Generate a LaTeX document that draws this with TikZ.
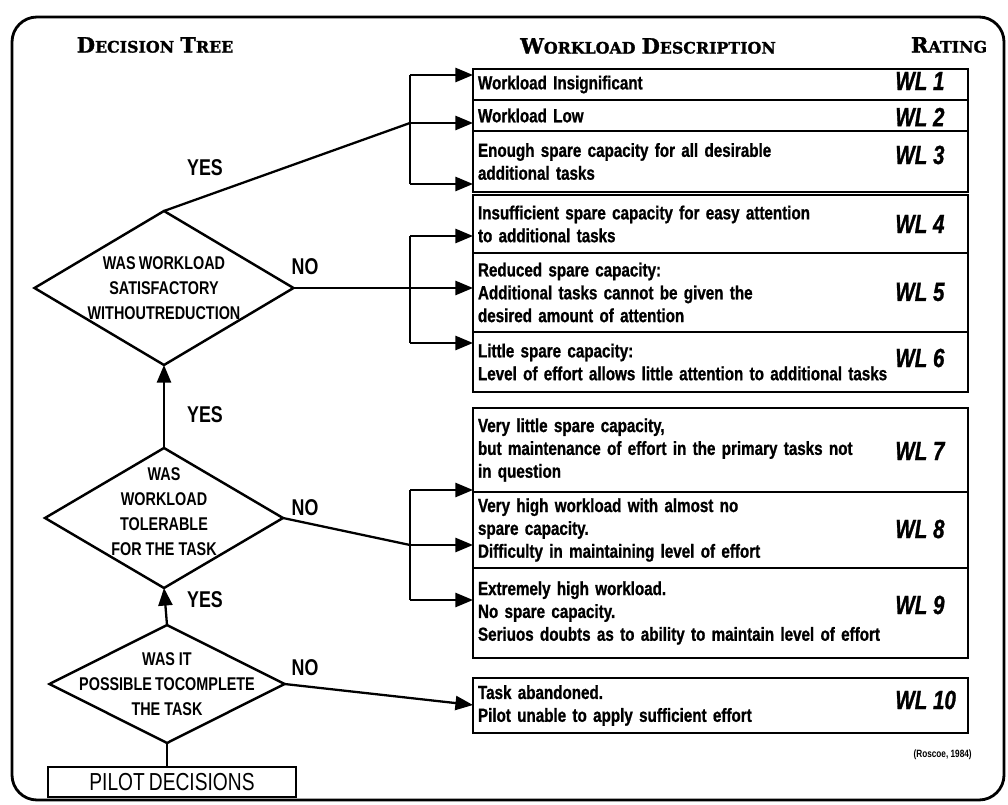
\documentclass[tikz,border=0pt]{standalone}
\usepackage{fontspec}
\setmainfont{Liberation Sans}
\newfontfamily\descfont[FakeStretch=0.8, FakeBold=1]{Liberation Sans}
\newfontfamily\askfont[FakeStretch=0.78]{Liberation Sans}
\newfontfamily\ratefont[FakeStretch=0.78, FakeBold=1]{Liberation Sans}
\newfontfamily\headfont[FakeBold=1.5]{DejaVu Serif}
\usetikzlibrary{shapes.geometric, positioning, arrows.meta}

\newcommand\smallcap[2]{{\fontsize{12}{12}\selectfont #1}{\fontsize{9}{9}\selectfont #2}}

\tikzset{
    frame/.style={line width=1.6pt, rounded corners=0.5cm},
    head/.style={font=\headfont\bfseries, inner sep=0pt},
    wlbox/.style={draw, rectangle, line width=1.1pt, outer sep=0pt, inner xsep=0.1cm, inner ysep=0pt,
        minimum width=9.9cm, text width=9.7cm, align=left,
        font=\descfont\bfseries\fontsize{10.8}{13}\selectfont},
    rating/.style={anchor=west, inner sep=0pt, font=\ratefont\bfseries\itshape\fontsize{15}{15}\selectfont},
    ask/.style={diamond, draw, line width=1.4pt, inner sep=0pt, outer sep=0pt},
    asktext/.style={align=center, inner sep=0pt, font=\askfont\bfseries\fontsize{10.5}{14.2}\selectfont},
    pilotbox/.style={draw, rectangle, line width=1.2pt, outer sep=0pt, minimum width=4.96cm, minimum height=0.6cm,
        inner sep=0pt, font=\askfont\fontsize{14}{14}\selectfont},
    answer/.style={inner sep=0pt, font=\askfont\bfseries\fontsize{13}{13}\selectfont},
    conn/.style={line width=1.3pt},
    arr/.style={-{Triangle[length=10pt,width=8pt]}, line width=1.3pt},
    cite/.style={anchor=east, inner sep=0pt, font=\askfont\bfseries\fontsize{6}{6}\selectfont}
}

\begin{document}
\begin{tikzpicture}
    \def \busX {8.2}
    \useasboundingbox (0,0) rectangle (20.16,16.08);
    \draw[frame] (0.24,0.08) rectangle (20.08,15.74);

    \node[head] (hdtree) at (3.10,15.18) {\smallcap{D}{ECISION} \smallcap{T}{REE}};
    \node[head] (hddesc) at (12.96,15.16) {\smallcap{W}{ORKLOAD} \smallcap{D}{ESCRIPTION}};
    \node[head] (hdrate) at (18.98,15.18) {\smallcap{R}{ATING}};

    \node[wlbox, minimum height=0.62cm, anchor=north west] (wl1) at (9.46,14.70) {Workload Insignificant};
    \node[wlbox, minimum height=0.62cm, below=0pt of wl1] (wl2) {Workload Low};
    \node[wlbox, minimum height=1.22cm, below=0pt of wl2] (wl3) {Enough spare capacity for all desirable\\additional tasks};

    \node[wlbox, minimum height=1.16cm, anchor=north west] (wl4) at (9.46,12.18) {Insufficient spare capacity for easy attention\\to additional tasks};
    \node[wlbox, minimum height=1.58cm, below=0pt of wl4] (wl5) {Reduced spare capacity:\\Additional tasks cannot be given the\\desired amount of attention};
    \node[wlbox, minimum height=1.20cm, below=0pt of wl5] (wl6) {Little spare capacity:\\Level of effort allows little attention to additional tasks};

    \node[wlbox, minimum height=1.68cm, anchor=north west] (wl7) at (9.46,7.92) {Very little spare capacity,\\but maintenance of effort in the primary tasks not\\in question};
    \node[wlbox, minimum height=1.52cm, below=0pt of wl7] (wl8) {Very high workload with almost no\\spare capacity.\\Difficulty in maintaining level of effort};
    \node[wlbox, minimum height=1.80cm, below=0pt of wl8] (wl9) {Extremely high workload.\\No spare capacity.\\Seriuos doubts as to ability to maintain level of effort};

    \node[wlbox, minimum height=1.10cm, anchor=north west] (wl10) at (9.46,2.52) {Task abandoned.\\Pilot unable to apply sufficient effort};

    \node[rating] (r1) at (17.9,14.46) {WL 1};
    \node[rating] (r2) at (17.9,13.74) {WL 2};
    \node[rating] (r3) at (17.9,12.98) {WL 3};
    \node[rating] (r4) at (17.9,11.60) {WL 4};
    \node[rating] (r5) at (17.9,10.24) {WL 5};
    \node[rating] (r6) at (17.9,8.92) {WL 6};
    \node[rating] (r7) at (17.9,7.06) {WL 7};
    \node[rating] (r8) at (17.9,5.50) {WL 8};
    \node[rating] (r9) at (17.9,3.98) {WL 9};
    \node[rating] (r10) at (17.9,2.08) {WL 10};

    \node[cite] (source) at (19.44,0.98) {(Roscoe, 1984)};

    \node[ask, minimum width=5.18cm, minimum height=3.08cm,
        label={[asktext]center:WAS\,WORKLOAD\\SATISFACTORY\\WITHOUTREDUCTION}] (d1) at (3.28,10.32) {};
    \node[ask, minimum width=4.76cm, minimum height=2.80cm,
        label={[asktext, yshift=0.12cm]center:WAS\\WORKLOAD\\TOLERABLE\\FOR THE TASK}] (d2) at (3.28,5.72) {};
    \node[ask, minimum width=4.70cm, minimum height=2.36cm,
        label={[asktext]center:WAS IT\\POSSIBLE\,TOCOMPLETE\\THE TASK}] (d3) at (3.34,2.40) {};
    \node[pilotbox] (pilot) at (3.44,0.44) {PILOT\,DECISIONS};

    \node[answer] (yes1) at (4.10,12.72) {YES};
    \node[answer] (yes2) at (4.10,7.78) {YES};
    \node[answer] (yes3) at (4.10,4.08) {YES};
    \node[answer] (no1) at (6.10,10.74) {NO};
    \node[answer] (no2) at (6.10,5.92) {NO};
    \node[answer] (no3) at (6.10,2.72) {NO};

    \coordinate (bus) at (\busX,0);
    \coordinate (in1) at (9.46,14.58);
    \coordinate (in2) at (9.46,13.62);
    \coordinate (in3) at (9.46,12.40);
    \coordinate (in4) at (9.46,11.36);
    \coordinate (in5) at (9.46,10.32);
    \coordinate (in6) at (9.46,9.22);
    \coordinate (in7) at (9.46,6.28);
    \coordinate (in8) at (9.46,5.18);
    \coordinate (in9) at (9.46,4.08);
    \coordinate (in10) at (9.46,1.98);

    \draw[conn] (pilot.north -| d3.south) -- (d3.south);
    \draw[arr] (d3.north) -- (d2.south);
    \draw[arr] (d2.north) -- (d1.south);
    \draw[conn] (d1.north) -- (bus |- in2);
    \draw[conn] (d1.east) -- (bus |- in5);
    \draw[conn] (d2.east) -- (bus |- in8);
    \draw[arr] (d3.east) -- (in10);

    \draw[conn] (bus |- in1) -- (bus |- in3);
    \draw[conn] (bus |- in4) -- (bus |- in6);
    \draw[conn] (bus |- in7) -- (bus |- in9);
    \foreach \i in {1,...,9}
        \draw[arr] (bus |- in\i) -- (in\i);
\end{tikzpicture}
\end{document}
